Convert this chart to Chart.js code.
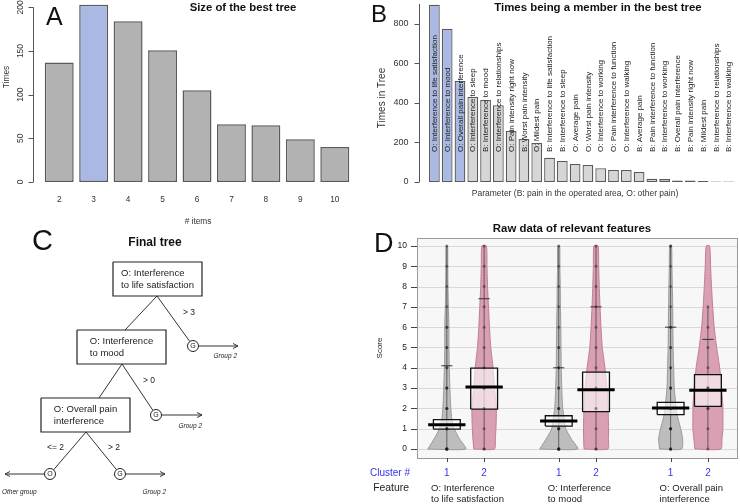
<!DOCTYPE html>
<html>
<head>
<meta charset="utf-8">
<script src="https://cdn.jsdelivr.net/npm/chart.js@4.4.1/dist/chart.umd.min.js"></script>
<style>
  body { margin: 0; background: #fff; width: 740px; height: 504px; position: relative; overflow: hidden; }
  canvas { position: absolute; }
</style>
</head>
<body>
<canvas id="cA" width="370" height="230" style="left:0;top:0"></canvas>
<canvas id="cB" width="370" height="215" style="left:370px;top:0"></canvas>
<canvas id="cC" width="370" height="289" style="left:0;top:215px"></canvas>
<canvas id="cD" width="370" height="289" style="left:370px;top:215px"></canvas>
<script>
// ---- A: size of the best tree ----
var sizeItems = ['2', '3', '4', '5', '6', '7', '8', '9', '10'];
var sizeTimes = [137, 203, 184, 151, 105, 66, 65, 49, 40];
var sizeTicks = [0, 50, 100, 150, 200];
var bestSize = '3';

// ---- B: times being a member in the best tree ----
var memberParams = [
  'O: Interference to life satisfaction', 'O: Interference to mood', 'O: Overall pain interference',
  'O: Interference to sleep', 'B: Interference to mood', 'O: Interference to relationships',
  'O: Pain intensity right now', 'B: Worst pain intensity', 'O: Mildest pain',
  'B: Interference to life satisfaction', 'B: Interference to sleep', 'O: Average pain',
  'O: Worst pain intensity', 'O: Interference to working', 'O: Pain interference to function',
  'O: Interference to walking', 'B: Average pain', 'B: Pain interference to function',
  'B: Interference to working', 'B: Overall pain interference', 'B: Pain intensity right now',
  'B: Mildest pain', 'B: Interference to relationships', 'B: Interference to walking'
];
var memberTimes = [896, 775, 511, 430, 415, 388, 258, 218, 197, 122, 106, 91, 86, 70, 61, 61, 51, 17, 15, 8, 8, 5, 2, 2];
var memberTicks = [0, 200, 400, 600, 800];
var treeMembers = 3;

// ---- D: raw data of relevant features ----
var featureNames = [['O: Interference', 'to life satisfaction'], ['O: Interference', 'to mood'], ['O: Overall pain', 'interference']];
var clusterIds = ['1', '2', '1', '2', '1', '2'];
var clusterPos = [1, 2, 4, 5, 7, 8];
var scoreTicks = [0, 1, 2, 3, 4, 5, 6, 7, 8, 9, 10];
var boxLow = [0.98, 1.97, 1.13, 1.84, 1.70, 2.10];
var boxMedian = [1.20, 3.05, 1.38, 2.92, 2.02, 2.89];
var boxHigh = [1.45, 3.98, 1.64, 3.79, 2.30, 3.66];
var whiskerHigh = [4.1, 7.4, 4.0, 7.0, 6.0, 5.4];
var scoreLevels = [0, 0.5, 1, 1.5, 2, 2.5, 3, 4, 5, 6, 7, 8, 9, 10];
var violinDensity = [
  [1.00, 0.67, 0.39, 0.26, 0.21, 0.18, 0.16, 0.13, 0.11, 0.11, 0.08, 0.06, 0.05, 0.04],
  [0.54, 0.59, 0.62, 0.64, 0.64, 0.60, 0.55, 0.47, 0.35, 0.28, 0.23, 0.18, 0.15, 0.12],
  [1.00, 0.66, 0.37, 0.29, 0.21, 0.18, 0.16, 0.13, 0.12, 0.11, 0.09, 0.08, 0.06, 0.05],
  [0.63, 0.65, 0.66, 0.65, 0.63, 0.61, 0.58, 0.47, 0.33, 0.26, 0.21, 0.17, 0.14, 0.11],
  [0.58, 0.63, 0.53, 0.39, 0.29, 0.24, 0.19, 0.16, 0.13, 0.12, 0.11, 0.09, 0.07, 0.05],
  [0.68, 0.74, 0.79, 0.79, 0.79, 0.76, 0.72, 0.62, 0.46, 0.33, 0.25, 0.19, 0.14, 0.09]
];
var clusterScores = [
  [0, 0, 0, 0, 0, 0, 1, 1, 1, 1, 2, 2, 2, 3, 3, 3, 4, 4, 5, 5, 6, 6, 7, 8, 9, 10],
  [0, 0, 1, 2, 3, 3, 4, 5, 6, 7, 8, 9, 10],
  [0, 0, 0, 0, 0, 0, 1, 1, 1, 1, 2, 2, 2, 3, 3, 4, 4, 5, 5, 6, 7, 8, 9, 10],
  [0, 0, 1, 2, 3, 4, 5, 6, 7, 8, 9, 10],
  [0, 0, 0, 0, 1, 1, 1, 1, 2, 2, 2, 3, 3, 3, 4, 4, 5, 5, 6, 6, 7, 8, 9, 10, 10],
  [0, 1, 2, 2, 3, 3, 4, 5, 6, 7]
];

var F = '"Liberation Sans", Arial, sans-serif';

function put(ctx, s, x, y, o) {
  ctx.save();
  ctx.font = o.font;
  ctx.fillStyle = o.color || '#222';
  ctx.textAlign = o.align || 'center';
  ctx.textBaseline = o.base || 'middle';
  ctx.translate(x, y);
  if (o.rot) ctx.rotate(o.rot);
  ctx.fillText(s, 0, 0);
  ctx.restore();
}

// lines left aligned, block centred on cx
function block(ctx, lines, cx, y, lh, font) {
  ctx.save();
  ctx.font = font;
  var w = Math.max.apply(null, lines.map(function (l) { return ctx.measureText(l).width; }));
  ctx.restore();
  lines.forEach(function (l, i) { put(ctx, l, cx - w / 2, y + i * lh, { font: font, align: 'left' }); });
}

var common = {
  responsive: false, animation: false, devicePixelRatio: 1, events: [],
  plugins: { legend: { display: false }, tooltip: { enabled: false } }
};
function opts(extra) { return Object.assign({}, common, extra); }

// ---------- A ----------
var axesA = {
  id: 'axesA',
  afterDraw: function (chart) {
    var ctx = chart.ctx, xs = chart.scales.x, ys = chart.scales.y;
    var ax = Math.round(chart.chartArea.left - 9) + 0.5;
    ctx.save();
    ctx.strokeStyle = '#555'; ctx.lineWidth = 1;
    ctx.beginPath();
    ctx.moveTo(ax, ys.getPixelForValue(sizeTicks[0]));
    ctx.lineTo(ax, ys.getPixelForValue(sizeTicks[sizeTicks.length - 1]));
    sizeTicks.forEach(function (t) {
      var py = Math.round(ys.getPixelForValue(t)) + 0.5;
      ctx.moveTo(ax - 5, py); ctx.lineTo(ax, py);
    });
    ctx.stroke();
    ctx.restore();
    sizeTicks.forEach(function (t) {
      put(ctx, String(t), ax - 13, ys.getPixelForValue(t), { font: '8.5px ' + F, rot: -Math.PI / 2, color: '#333' });
    });
    put(ctx, 'Times', 7, 77, { font: '8.3px ' + F, rot: -Math.PI / 2, color: '#333' });
    sizeItems.forEach(function (s, i) {
      put(ctx, s, xs.getPixelForValue(i), 200, { font: '8.3px ' + F, color: '#333' });
    });
    put(ctx, '# items', 198, 222, { font: '8.3px ' + F, color: '#333' });
    put(ctx, 'Size of the best tree', 243, 8, { font: 'bold 11.3px ' + F, color: '#111' });
    put(ctx, 'A', 46, 25, { font: '25px ' + F, align: 'left', base: 'alphabetic', color: '#111' });
  }
};

new Chart(document.getElementById('cA'), {
  type: 'bar',
  data: {
    labels: sizeItems,
    datasets: [{
      data: sizeTimes,
      backgroundColor: sizeItems.map(function (s) { return s === bestSize ? '#aab9e3' : '#b2b2b2'; }),
      borderColor: '#5a5a5a', borderWidth: 1.5, borderSkipped: false,
      barPercentage: 0.84, categoryPercentage: 1
    }]
  },
  options: opts({
    layout: { autoPadding: false, padding: { left: 42, right: 18, top: 3, bottom: 48 } },
    scales: { x: { display: false }, y: { display: false, min: 0, max: 205 } }
  }),
  plugins: [axesA]
});

// ---------- B ----------
var axesB = {
  id: 'axesB',
  afterDraw: function (chart) {
    var ctx = chart.ctx, xs = chart.scales.x, ys = chart.scales.y, ca = chart.chartArea;
    var ax = Math.round(ca.left - 9) + 0.5;
    ctx.save();
    ctx.strokeStyle = '#555'; ctx.lineWidth = 1;
    ctx.beginPath();
    ctx.moveTo(ax, ys.getPixelForValue(0)); ctx.lineTo(ax, ca.top);
    memberTicks.forEach(function (t) {
      var py = Math.round(ys.getPixelForValue(t)) + 0.5;
      ctx.moveTo(ax - 5, py); ctx.lineTo(ax, py);
    });
    ctx.stroke();
    ctx.restore();
    memberTicks.forEach(function (t) {
      put(ctx, String(t), ax - 11, ys.getPixelForValue(t), { font: '9px ' + F, align: 'right', color: '#333' });
    });
    put(ctx, 'Times in Tree', 12, 98, { font: '10px ' + F, rot: -Math.PI / 2, color: '#333' });
    put(ctx, 'Parameter (B: pain in the operated area, O: other pain)', 205, 194, { font: '8.5px ' + F, color: '#333' });
    put(ctx, 'Times being a member in the best tree', 228, 8, { font: 'bold 11.4px ' + F, color: '#111' });
    put(ctx, 'B', 1, 22, { font: '24px ' + F, align: 'left', base: 'alphabetic', color: '#111' });
    memberParams.forEach(function (p, i) {
      put(ctx, p, xs.getPixelForValue(i) + 0.5, 152, { font: '8px ' + F, align: 'left', rot: -Math.PI / 2, color: '#222' });
    });
  }
};

new Chart(document.getElementById('cB'), {
  type: 'bar',
  data: {
    labels: memberParams,
    datasets: [{
      data: memberTimes,
      backgroundColor: memberParams.map(function (p, i) { return i < treeMembers ? '#aab9e3' : '#d6d6d6'; }),
      borderColor: '#5a5a5a', borderWidth: 1.3, borderSkipped: false,
      barPercentage: 0.84, categoryPercentage: 1
    }]
  },
  options: opts({
    layout: { autoPadding: false, padding: { left: 58, right: 5, top: 4, bottom: 33 } },
    scales: { x: { display: false }, y: { display: false, min: 0, max: 900 } }
  }),
  plugins: [axesB]
});

// ---------- C: final tree (diagram) ----------
var tree = {
  boxes: [
    { x: 113, y: 47, w: 89, h: 34, text: ['O: Interference', 'to life satisfaction'] },
    { x: 77, y: 115, w: 89, h: 34, text: ['O: Interference', 'to mood'] },
    { x: 41, y: 183, w: 89, h: 34, text: ['O: Overall pain', 'interference'] }
  ],
  circles: [
    { x: 193, y: 131, t: 'G' }, { x: 156, y: 200, t: 'G' }, { x: 50, y: 259, t: 'O' }, { x: 120, y: 259, t: 'G' }
  ],
  r: 5.5,
  edges: [
    [157, 81, 125, 115, null], [157, 81, 193, 131, 0],
    [122, 149, 99, 183, null], [122, 149, 156, 200, 1],
    [86, 217, 50, 259, 2], [86, 217, 120, 259, 3]
  ],
  arrows: [[199, 131, 238, 131], [161.5, 200, 202, 200], [44.5, 259, 5, 259], [125.5, 259, 165, 259]],
  rules: [['> 3', 183, 98], ['> 0', 143, 166], ['<= 2', 47, 233], ['> 2', 108, 233]],
  groups: [['Group 2', 237, 141, 'right'], ['Group 2', 202, 211, 'right'], ['Other group', 2, 277, 'left'], ['Group 2', 166, 277, 'right']]
};

var treeSets = [];
tree.boxes.forEach(function (b) {
  treeSets.push({
    data: [{ x: b.x, y: b.y }, { x: b.x + b.w, y: b.y }, { x: b.x + b.w, y: b.y + b.h }, { x: b.x, y: b.y + b.h }, { x: b.x, y: b.y }],
    showLine: true, fill: 'shape', backgroundColor: '#fff', borderColor: '#222', borderWidth: 1.2, pointRadius: 0, order: 2
  });
});
tree.edges.concat(tree.arrows).forEach(function (e) {
  var x2 = e[2], y2 = e[3];
  if (e[4] != null) {
    var dx = x2 - e[0], dy = y2 - e[1], L = Math.sqrt(dx * dx + dy * dy);
    x2 -= dx / L * tree.r; y2 -= dy / L * tree.r;
  }
  treeSets.push({
    data: [{ x: e[0], y: e[1] }, { x: x2, y: y2 }],
    showLine: true, borderColor: '#333', borderWidth: 1, pointRadius: 0, order: 3
  });
});
treeSets.push({
  data: tree.circles.map(function (c) { return { x: c.x, y: c.y }; }),
  pointRadius: tree.r, pointBackgroundColor: '#fff', pointBorderColor: '#222', pointBorderWidth: 1, order: 0
});

var treeText = {
  id: 'treeText',
  afterDatasetsDraw: function (chart) {
    var ctx = chart.ctx;
    tree.boxes.forEach(function (b) {
      block(ctx, b.text, b.x + b.w / 2, b.y + 11, 12.3, '9.5px ' + F);
    });
    tree.circles.forEach(function (c) {
      put(ctx, c.t, c.x, c.y + 0.5, { font: '7px ' + F, color: '#222' });
    });
    ctx.save();
    ctx.strokeStyle = '#333'; ctx.lineWidth = 1;
    tree.arrows.forEach(function (a) {
      var d = a[2] > a[0] ? -1 : 1;
      ctx.beginPath();
      ctx.moveTo(a[2] + d * 5, a[3] - 2.5); ctx.lineTo(a[2], a[3]); ctx.lineTo(a[2] + d * 5, a[3] + 2.5);
      ctx.stroke();
    });
    ctx.restore();
    tree.rules.forEach(function (r) {
      put(ctx, r[0], r[1], r[2], { font: '8.5px ' + F, align: 'left', color: '#222' });
    });
    tree.groups.forEach(function (g) {
      put(ctx, g[0], g[1], g[2], { font: 'italic 6.5px ' + F, align: g[3], color: '#222' });
    });
    put(ctx, 'Final tree', 155, 28, { font: 'bold 12px ' + F, color: '#111' });
    put(ctx, 'C', 32, 35, { font: '29px ' + F, align: 'left', base: 'alphabetic', color: '#111' });
  }
};

new Chart(document.getElementById('cC'), {
  type: 'scatter',
  data: { datasets: treeSets },
  options: opts({
    layout: { autoPadding: false, padding: 0 },
    scales: { x: { display: false, min: 0, max: 370 }, y: { display: false, min: 0, max: 289, reverse: true } }
  }),
  plugins: [treeText]
});

// ---------- D ----------
var violinScale = 0.51, boxHalf = 0.36, medianHalf = 0.5, capHalf = 0.15;
var clusterFill = ['#bdbdbd', '#d9a0b3'], clusterLine = ['#999', '#c27c95'];

var dSets = [];
clusterPos.forEach(function (c, i) {
  var k = clusterIds[i] === '1' ? 0 : 1;
  var d = violinDensity[i], pts = [];
  scoreLevels.forEach(function (s, j) { pts.push({ x: c - d[j] * violinScale, y: s }); });
  for (var j = scoreLevels.length - 1; j >= 0; j--) pts.push({ x: c + d[j] * violinScale, y: scoreLevels[j] });
  pts.push(pts[0]);
  dSets.push({ data: pts, showLine: true, fill: 'shape', tension: 0.2, pointRadius: 0, borderWidth: 1,
    borderColor: clusterLine[k], backgroundColor: clusterFill[k], order: 5 });
  var sc = clusterScores[i];
  dSets.push({ data: [{ x: c, y: Math.min.apply(null, sc) }, { x: c, y: Math.max.apply(null, sc) }],
    showLine: true, pointRadius: 0, borderWidth: 0.8, borderColor: 'rgba(30,30,30,0.75)', order: 4 });
  dSets.push({ data: [{ x: c - capHalf, y: whiskerHigh[i] }, { x: c + capHalf, y: whiskerHigh[i] }],
    showLine: true, pointRadius: 0, borderWidth: 1, borderColor: '#333', order: 3 });
  dSets.push({ data: [{ x: c - boxHalf, y: boxLow[i] }, { x: c + boxHalf, y: boxLow[i] }, { x: c + boxHalf, y: boxHigh[i] },
    { x: c - boxHalf, y: boxHigh[i] }, { x: c - boxHalf, y: boxLow[i] }],
    showLine: true, fill: 'shape', pointRadius: 0, borderWidth: 1.3, borderColor: '#111',
    backgroundColor: 'rgba(255,255,255,0.62)', order: 2 });
  dSets.push({ data: [{ x: c - medianHalf, y: boxMedian[i] }, { x: c + medianHalf, y: boxMedian[i] }],
    showLine: true, pointRadius: 0, borderWidth: 3, borderColor: '#000', order: 1 });
  dSets.push({ data: sc.map(function (s) { return { x: c, y: s }; }),
    pointRadius: 1.5, pointBackgroundColor: 'rgba(25,25,25,0.45)', pointBorderWidth: 0, order: 0 });
});

var axesD = {
  id: 'axesD',
  beforeDatasetsDraw: function (chart) {
    var ctx = chart.ctx, ca = chart.chartArea, ys = chart.scales.y;
    ctx.save();
    ctx.fillStyle = '#f7f7f7';
    ctx.fillRect(ca.left, ca.top, ca.right - ca.left, ca.bottom - ca.top);
    ctx.strokeStyle = '#d9d9d9'; ctx.lineWidth = 1;
    ctx.beginPath();
    scoreTicks.forEach(function (t) {
      var py = Math.round(ys.getPixelForValue(t)) + 0.5;
      ctx.moveTo(ca.left, py); ctx.lineTo(ca.right, py);
    });
    ctx.stroke();
    ctx.restore();
  },
  afterDraw: function (chart) {
    var ctx = chart.ctx, ca = chart.chartArea, xs = chart.scales.x, ys = chart.scales.y;
    ctx.save();
    ctx.strokeStyle = '#999'; ctx.lineWidth = 1;
    ctx.strokeRect(Math.round(ca.left) + 0.5, Math.round(ca.top) + 0.5, Math.round(ca.right - ca.left), Math.round(ca.bottom - ca.top));
    ctx.strokeStyle = '#444';
    ctx.beginPath();
    scoreTicks.forEach(function (t) {
      var py = Math.round(ys.getPixelForValue(t)) + 0.5;
      ctx.moveTo(ca.left - 6, py); ctx.lineTo(ca.left, py);
    });
    clusterPos.forEach(function (c) {
      var px = Math.round(xs.getPixelForValue(c)) + 0.5;
      ctx.moveTo(px, ca.bottom); ctx.lineTo(px, ca.bottom + 4);
    });
    ctx.stroke();
    ctx.restore();
    scoreTicks.forEach(function (t) {
      put(ctx, String(t), ca.left - 10, ys.getPixelForValue(t), { font: '8.5px ' + F, align: 'right', color: '#222' });
    });
    put(ctx, 'Score', 10, (ca.top + ca.bottom) / 2, { font: '8px ' + F, rot: -Math.PI / 2, color: '#222' });
    put(ctx, 'Cluster #', 40, 258, { font: '10px ' + F, align: 'right', color: '#3434e6' });
    put(ctx, 'Feature', 39, 273, { font: '10.4px ' + F, align: 'right', color: '#222' });
    clusterPos.forEach(function (c, i) {
      put(ctx, clusterIds[i], xs.getPixelForValue(c), 258, { font: '10px ' + F, color: '#3434e6' });
    });
    featureNames.forEach(function (f, g) {
      var cx = (xs.getPixelForValue(clusterPos[2 * g]) + xs.getPixelForValue(clusterPos[2 * g + 1])) / 2 + 2;
      block(ctx, f, cx, 273, 11.5, '9.5px ' + F);
    });
    put(ctx, 'Raw data of relevant features', 202, 14, { font: 'bold 11.4px ' + F, color: '#111' });
    put(ctx, 'D', 4, 37, { font: '27px ' + F, align: 'left', base: 'alphabetic', color: '#111' });
  }
};

new Chart(document.getElementById('cD'), {
  type: 'scatter',
  data: { datasets: dSets },
  options: opts({
    layout: { autoPadding: false, padding: { left: 47, right: 3, top: 23, bottom: 46 } },
    scales: { x: { display: false, min: 0.2, max: 8.78 }, y: { display: false, min: -0.44, max: 10.39 } }
  }),
  plugins: [axesD]
});
</script>
</body>
</html>
